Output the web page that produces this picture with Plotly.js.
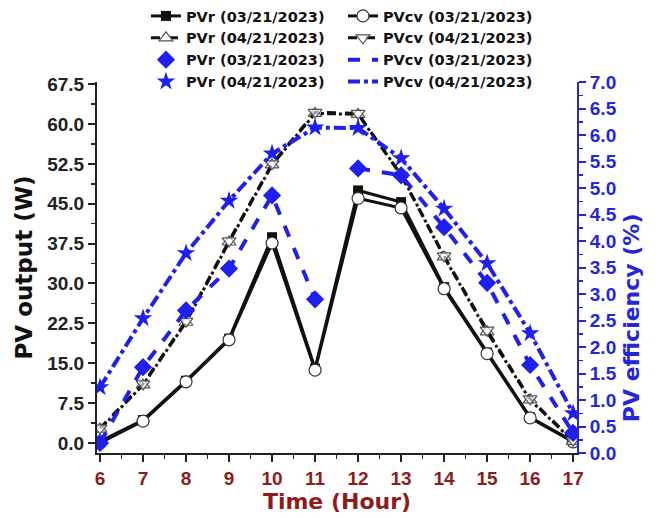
<!DOCTYPE html>
<html>
<head>
<meta charset="utf-8">
<script src="https://cdn.plot.ly/plotly-3.0.1.min.js"></script>
<style>html,body{margin:0;padding:0;background:#fff;}#chart{width:659px;height:518px;}</style>
</head>
<body>
<div id="chart"></div>
<script>
// ---- data ----
const hours = [6, 7, 8, 9, 10, 11, 12, 13, 14, 15, 16, 17];
const xTickLabels = ['6', '7', '8', '9', '10', '11', '12', '13', '14', '15', '16', '17'];
const seriesNames = ['PVr (03/21/2023)', 'PVcv (03/21/2023)', 'PVr (04/21/2023)', 'PVcv (04/21/2023)'];

// PV output (W)
const pvr0321 = [0.3, 4.3, 11.7, 19.6, 38.7, 14.0, 47.5, 45.3, 29.3, 17.0, 4.8, 0.3];
const pvcv0321 = [0.0, 4.1, 11.5, 19.4, 37.6, 13.7, 46.0, 44.2, 29.0, 16.8, 4.7, 0.2];
const pvr0421 = [2.6, 10.9, 22.7, 37.8, 52.3, 62.0, 61.8, 50.5, 35.0, 20.9, 8.1, 0.3];
const pvcv0421 = [2.8, 11.1, 22.9, 38.0, 52.5, 62.2, 62.0, 50.3, 35.2, 21.2, 8.3, 0.5];

// PV efficiency (%)
const effR0321 = [0.19, 1.62, 2.69, 3.48, 4.86, 2.90, 5.37, 5.24, 4.26, 3.21, 1.66, 0.38];
const effCv0321 = [0.19, 1.62, 2.69, 3.48, 4.86, 2.90, 5.37, 5.24, 4.26, 3.21, 1.66, 0.38];
const effCv0321BreakAfter = 11; // line is not drawn between 11 h and 12 h
const effR0421 = [1.24, 2.54, 3.77, 4.76, 5.65, 6.14, 6.13, 5.56, 4.61, 3.58, 2.26, 0.75];
const effCv0421 = [1.24, 2.54, 3.77, 4.76, 5.65, 6.14, 6.13, 5.56, 4.61, 3.58, 2.26, 0.75];

const leftTicks = [0, 7.5, 15, 22.5, 30, 37.5, 45, 52.5, 60, 67.5];
const rightTicks = [0, 0.5, 1, 1.5, 2, 2.5, 3, 3.5, 4, 4.5, 5, 5.5, 6, 6.5, 7];

// ---- styling ----
const BLUE = '#1f1ff0';
const AXBLUE = '#2626d8';
const DARKRED = '#8e1c1c';
const TXT = "DejaVu Sans, Verdana, sans-serif";
const NUM = "Liberation Sans, Arial, sans-serif";

// insert a gap into a line
function withGap(xs, ys, afterX) {
  const gx = [], gy = [];
  xs.forEach((x, i) => {
    gx.push(x); gy.push(ys[i]);
    if (x === afterX && i < xs.length - 1) { gx.push((x + xs[i + 1]) / 2); gy.push(null); }
  });
  return {x: gx, y: gy};
}
const gapCv0321 = withGap(hours, effCv0321, effCv0321BreakAfter);

const traces = [
  {x: hours, y: pvr0321, name: seriesNames[0], mode: 'lines+markers',
   line: {color: '#111', width: 3},
   marker: {symbol: 'square', size: 10, color: '#111'}},
  {x: hours, y: pvcv0321, name: seriesNames[1], mode: 'lines+markers',
   line: {color: '#111', width: 3},
   marker: {symbol: 'circle', size: 12, color: '#fff', line: {color: '#333', width: 1.2}}},
  {x: hours, y: pvr0421, name: seriesNames[2], mode: 'lines+markers',
   line: {color: '#111', width: 3, dash: 'dashdot'},
   marker: {symbol: 'triangle-up', size: 12, color: '#fff', line: {color: '#555', width: 1.2}}},
  {x: hours, y: pvcv0421, name: seriesNames[3], mode: 'lines+markers',
   line: {color: '#111', width: 3, dash: 'dash'},
   marker: {symbol: 'triangle-down', size: 12, color: 'rgba(255,255,255,0.6)', line: {color: '#555', width: 1.2}}},
  {x: hours, y: effR0321, name: seriesNames[0], mode: 'markers', yaxis: 'y2',
   marker: {symbol: 'diamond', size: 14, color: BLUE}},
  {x: gapCv0321.x, y: gapCv0321.y, name: seriesNames[1], mode: 'lines', yaxis: 'y2', connectgaps: false,
   line: {color: BLUE, width: 4, dash: 'dash'}},
  {x: hours, y: effR0421, name: seriesNames[2], mode: 'markers', yaxis: 'y2',
   marker: {symbol: 'star', size: 14, color: BLUE}},
  {x: hours, y: effCv0421, name: seriesNames[3], mode: 'lines', yaxis: 'y2',
   line: {color: BLUE, width: 4, dash: 'dashdot'}}
];

const layout = {
  width: 659, height: 518,
  margin: {l: 97, r: 82, t: 82, b: 65, pad: 0, autoexpand: false},
  paper_bgcolor: '#fff', plot_bgcolor: '#fff',
  showlegend: true,
  legend: {
    orientation: 'h', xref: 'container', yref: 'container',
    x: 0.2215, y: 1, xanchor: 'left', yanchor: 'top',
    entrywidth: 152, entrywidthmode: 'pixels',
    bgcolor: 'rgba(0,0,0,0)', borderwidth: 0,
    font: {family: TXT, size: 14.5, color: '#111', weight: 'bold'},
    traceorder: 'normal'
  },
  xaxis: {
    range: [5.93, 17.09], tickmode: 'array', tickvals: hours, ticktext: xTickLabels,
    ticks: 'outside', ticklen: 7, tickwidth: 2, tickcolor: '#222',
    showline: true, linecolor: '#222', linewidth: 2, mirror: false,
    showgrid: false, zeroline: false,
    tickfont: {family: NUM, size: 19, color: DARKRED, weight: 'bold'},
    minor: {dtick: 0.5, tick0: 6, ticks: 'outside', ticklen: 4, tickwidth: 1.5, tickcolor: '#222', showgrid: false},
    title: {text: 'Time (Hour)', standoff: 4, font: {family: TXT, size: 22, color: DARKRED, weight: 'bold'}}
  },
  yaxis: {
    range: [-1.9, 67.9], tickmode: 'array', tickvals: leftTicks,
    tickformat: '.1f',
    ticks: 'outside', ticklen: 7, tickwidth: 2, tickcolor: '#222',
    showline: true, linecolor: '#222', linewidth: 2,
    showgrid: false, zeroline: false,
    tickfont: {family: NUM, size: 19, color: '#222', weight: 'bold'},
    minor: {dtick: 3.75, tick0: 0, ticks: 'outside', ticklen: 4, tickwidth: 1.5, tickcolor: '#222', showgrid: false},
    title: {text: 'PV output (W)', standoff: 8, font: {family: TXT, size: 23, color: '#111', weight: 'bold'}}
  },
  yaxis2: {
    overlaying: 'y', side: 'right', anchor: 'x',
    range: [0, 7.0], tickmode: 'array', tickvals: rightTicks, tickformat: '.1f',
    ticks: 'outside', ticklen: 7, tickwidth: 2, tickcolor: AXBLUE,
    showline: true, linecolor: AXBLUE, linewidth: 2,
    showgrid: false, zeroline: false,
    tickfont: {family: NUM, size: 19, color: AXBLUE, weight: 'bold'},
    minor: {dtick: 0.25, tick0: 0, ticks: 'outside', ticklen: 4, tickwidth: 1.5, tickcolor: AXBLUE, showgrid: false}
  },
  annotations: [{
    text: 'PV efficiency (%)', xref: 'paper', yref: 'paper',
    x: 1.115, y: 0.364, xanchor: 'center', yanchor: 'middle', textangle: -90, showarrow: false,
    font: {family: TXT, size: 22, color: AXBLUE, weight: 'bold'}
  }]
};

Plotly.newPlot('chart', traces, layout, {displayModeBar: false, staticPlot: true});
</script>
</body>
</html>
